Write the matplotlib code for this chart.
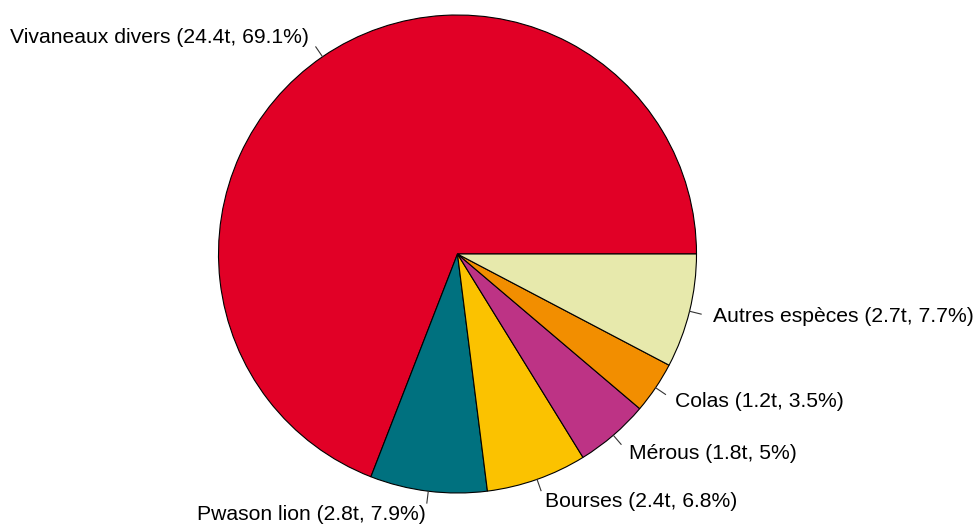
import numpy as np
import matplotlib.pyplot as plt

# Données
species = ["Vivaneaux divers", "Pwason lion", "Bourses", "Mérous", "Colas", "Autres espèces"]
tonnes = ["24.4", "2.8", "2.4", "1.8", "1.2", "2.7"]
percent = [69.1, 7.9, 6.8, 5, 3.5, 7.7]
colors = ["#E10026", "#00717F", "#FBC200", "#BD3385", "#F28E00", "#E7E9AC"]

plt.rcParams['font.family'] = ['Liberation Sans', 'DejaVu Sans']

fig = plt.figure(figsize=(9.78, 5.26), dpi=100)
ax = fig.add_axes([0, 0, 1, 1])

cx, cy, r = 457.5, 272, 239
wedges, _ = ax.pie(percent, colors=colors, startangle=0, counterclock=True,
                   center=(cx, cy), radius=r, frame=True,
                   wedgeprops=dict(edgecolor='black', linewidth=0.8))
ax.set_xlim(0, 978)
ax.set_ylim(0, 526)
ax.set_aspect('equal')
ax.axis('off')

# Etiquettes comme pie() de R
for w, name, t, p in zip(wedges, species, tonnes, percent):
    a = np.deg2rad((w.theta1 + w.theta2) / 2)
    c, s = np.cos(a), np.sin(a)
    ax.plot([cx + r * c, cx + 1.05 * r * c], [cy + r * s, cy + 1.05 * r * s],
            color='#333333', lw=0.8)
    label = f"{name} ({t}t, {p:g}%)"
    ax.text(cx + 1.1 * r * c, cy + 1.1 * r * s, label, fontsize=15.2,
            ha='left' if c > 0 else 'right', va='center', color='black')

fig.savefig('out.png', dpi=100)
